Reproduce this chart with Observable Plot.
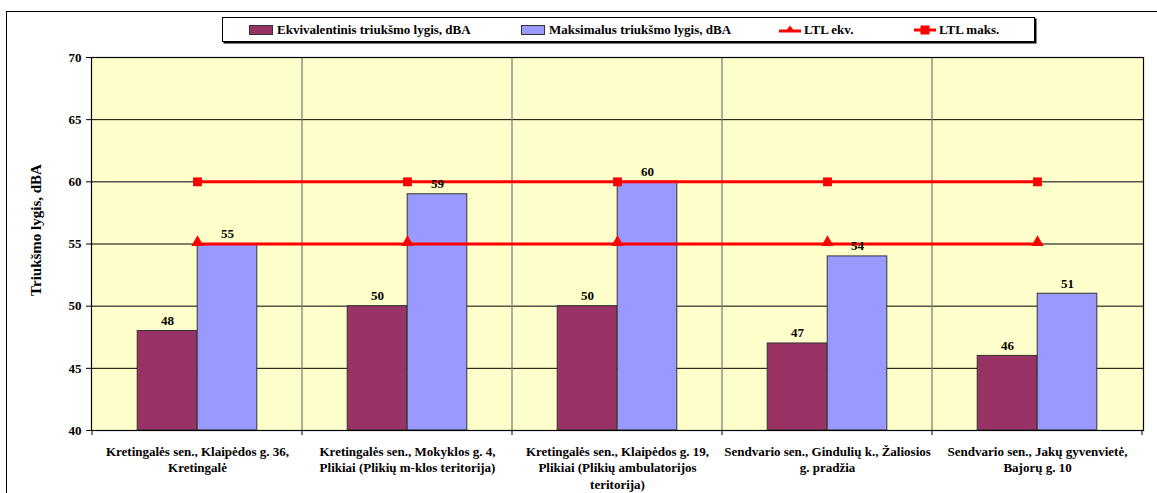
<!DOCTYPE html>
<html>
<head>
<meta charset="utf-8">
<script src="https://cdn.jsdelivr.net/npm/d3@7"></script>
<script src="https://cdn.jsdelivr.net/npm/@observablehq/plot@0.6"></script>
<style>
  html, body { margin: 0; padding: 0; background: #fff; }
  #wrap { position: relative; width: 1157px; height: 493px; overflow: hidden; font-family: "Liberation Serif", LiberationSerif, Tinos, "DejaVu Serif", serif; font-weight: bold; }
  #border { position: absolute; left: 6px; top: 11px; width: 1170px; height: 520px; border: 1.5px solid #000; box-sizing: border-box; }
  #chart { position: absolute; left: 0; top: 0; }
  #legend { position: absolute; left: 222px; top: 17px; width: 813px; height: 25px; border: 1px solid #000; box-shadow: 1.5px 1.5px 0 #000; background: #fff; box-sizing: border-box; font-size: 13px; }
  .item { position: absolute; top: 0; height: 23px; display: flex; align-items: center; white-space: nowrap; }
  .sw { display: inline-block; width: 22px; height: 8px; border: 1px solid #333; margin-right: 4px; }
</style>
</head>
<body>
<div id="wrap">
  <div id="border"></div>
  <div id="chart"></div>
  <div id="legend"></div>
</div>
<script>
const categories = [
  "Kretingalės sen., Klaipėdos g. 36,\nKretingalė",
  "Kretingalės sen., Mokyklos g. 4,\nPlikiai (Plikių m-klos teritorija)",
  "Kretingalės sen., Klaipėdos g. 19,\nPlikiai (Plikių ambulatorijos\nteritorija)",
  "Sendvario sen., Gindulių k., Žaliosios\ng. pradžia",
  "Sendvario sen., Jakų gyvenvietė,\nBajorų g. 10"
];
const ekvValues = [48, 50, 50, 47, 46];
const maksValues = [55, 59, 60, 54, 51];
const ltlEkvValues = [55, 55, 55, 55, 55];
const ltlMaksValues = [60, 60, 60, 60, 60];
const yTicks = [40, 45, 50, 55, 60, 65, 70];
const yDomain = [40, 70];
const seriesNames = ["Ekvivalentinis triukšmo lygis, dBA", "Maksimalus triukšmo lygis, dBA", "LTL ekv.", "LTL maks."];
const yTitle = "Triukšmo lygis, dBA";

const colEkv = "#993366", colMaks = "#9999FF", colLtl = "#FF0000", plotBg = "#FFFFCC";
const fontStack = "'Liberation Serif', LiberationSerif, Tinos, 'DejaVu Serif', serif";

const rows = categories.map((c, i) => ({
  cat: c, ekv: ekvValues[i], maks: maksValues[i], ltlEkv: ltlEkvValues[i], ltlMaks: ltlMaksValues[i]
}));

// boundary gridlines + ticks below axis, derived from the band scale
function boundaries(index, scales, values, dimensions) {
  const x = scales.x, y = scales.y;
  const g = d3.create("svg:g");
  const bw = typeof x.bandwidth === "function" ? x.bandwidth()
    : (dimensions.width - dimensions.marginLeft - dimensions.marginRight) / categories.length;
  const y0 = y(yDomain[0]), y1 = y(yDomain[1]);
  const edges = [];
  categories.forEach((c, i) => { if (i === 0) edges.push(x(c)); edges.push(x(c) + bw); });
  edges.forEach((ex, i) => {
    if (i > 0 && i < edges.length - 1) {
      g.append("line").attr("x1", ex).attr("x2", ex).attr("y1", y0).attr("y2", y1)
        .attr("stroke", "#808080").attr("stroke-width", 1.3);
    }
    g.append("line").attr("x1", ex).attr("x2", ex).attr("y1", y0).attr("y2", y0 + 5)
      .attr("stroke", "#000").attr("stroke-width", 1);
  });
  return g.node();
}

const chart = Plot.plot({
  width: 1157,
  height: 493,
  marginTop: 57,
  marginLeft: 91,
  marginRight: 14,
  marginBottom: 63,
  style: { fontFamily: fontStack, fontWeight: "bold", fontSize: "13px", background: "transparent", color: "#000" },
  x: { domain: categories, padding: 0, axis: null },
  y: { domain: yDomain, ticks: yTicks, label: null, tickSize: 5, tickPadding: 5 },
  marks: [
    Plot.frame({ fill: plotBg }),
    Plot.gridY(yTicks, { stroke: "#000", strokeOpacity: 1, strokeWidth: 1 }),
    boundaries,
    Plot.barY(rows, { x: "cat", y1: () => yDomain[0], y2: "ekv", fill: colEkv, stroke: "#333", strokeWidth: 1, insetLeft: 45.2, insetRight: 105.2 }),
    Plot.barY(rows, { x: "cat", y1: () => yDomain[0], y2: "maks", fill: colMaks, stroke: "#333", strokeWidth: 1, insetLeft: 105.2, insetRight: 45.2 }),
    Plot.lineY(rows, { x: "cat", y: "ltlEkv", stroke: colLtl, strokeWidth: 3 }),
    Plot.lineY(rows, { x: "cat", y: "ltlMaks", stroke: colLtl, strokeWidth: 3 }),
    Plot.dot(rows, { x: "cat", y: "ltlEkv", symbol: "triangle", r: 4.6, fill: colLtl, stroke: "none", dy: -1.5 }),
    Plot.dot(rows, { x: "cat", y: "ltlMaks", symbol: "square", r: 5, fill: colLtl, stroke: "none" }),
    Plot.text(rows, { x: "cat", y: "ekv", text: "ekv", dx: -30, dy: -6, lineAnchor: "bottom", fontSize: 13 }),
    Plot.text(rows, { x: "cat", y: "maks", text: "maks", dx: 30, dy: -6, lineAnchor: "bottom", fontSize: 13 }),
    Plot.frame({ stroke: "#000", strokeWidth: 1.2 }),
    Plot.text(categories, { x: d => d, frameAnchor: "bottom", text: d => d, dy: 13, lineAnchor: "top", lineHeight: 1.3, fontSize: 13 }),
    Plot.text([yTitle], { frameAnchor: "left", textAnchor: "middle", text: d => d, rotate: -90, dx: -55, dy: -14, fontSize: 15 })
  ]
});
document.getElementById("chart").appendChild(chart);

// Legend
const legend = document.getElementById("legend");
const lefts = [26, 298, 556, 691];
function addItem(i, swatchHtml) {
  const it = document.createElement("div");
  it.className = "item";
  it.style.left = lefts[i] + "px";
  it.innerHTML = swatchHtml + "<span>" + seriesNames[i] + "</span>";
  legend.appendChild(it);
}
addItem(0, `<span class="sw" style="background:${colEkv}"></span>`);
addItem(1, `<span class="sw" style="background:${colMaks}"></span>`);
addItem(2, `<svg width="22" height="12" style="margin-right:3px"><line x1="0" x2="22" y1="7" y2="7" stroke="${colLtl}" stroke-width="3"/><path d="M11,1.5 L16,8 L6,8 Z" fill="${colLtl}"/></svg>`);
addItem(3, `<svg width="22" height="12" style="margin-right:3px"><line x1="0" x2="22" y1="6" y2="6" stroke="${colLtl}" stroke-width="3"/><rect x="6.5" y="1.5" width="9" height="9" fill="${colLtl}"/></svg>`);
</script>
</body>
</html>
